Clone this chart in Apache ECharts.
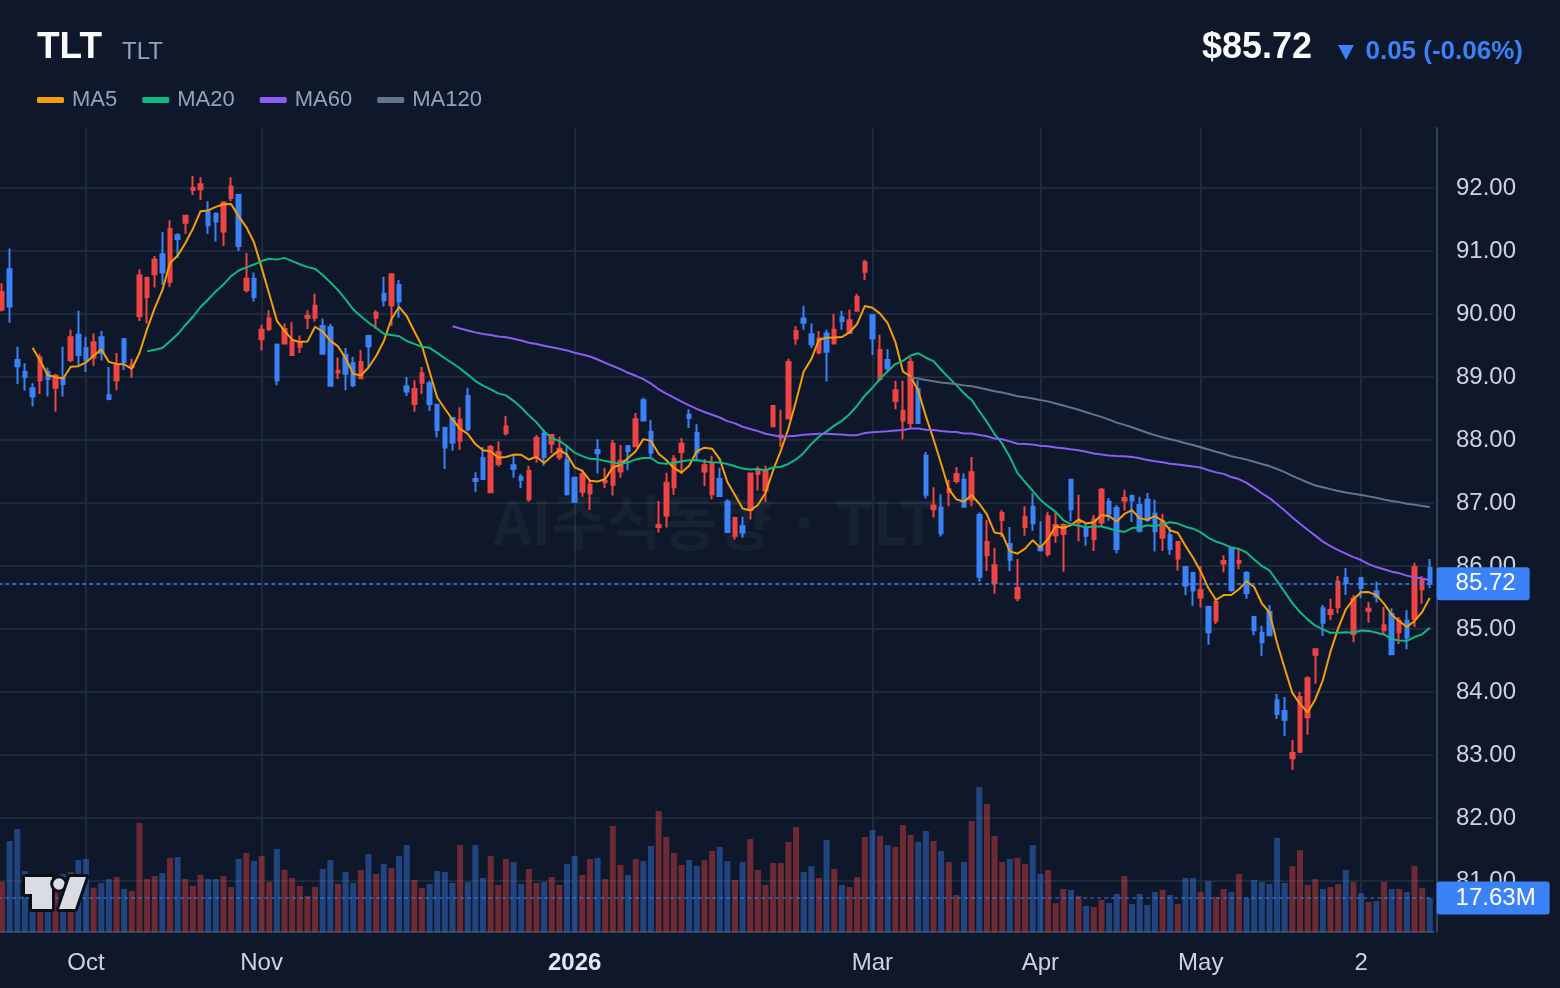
<!DOCTYPE html>
<html>
<head>
<meta charset="utf-8">
<title>TLT</title>
<script src="https://cdn.jsdelivr.net/npm/echarts@6.0.0/dist/echarts.min.js"></script>
<style>
  html, body { margin: 0; padding: 0; background: #0f172a; }
  #chart { width: 1560px; height: 988px; }
</style>
</head>
<body>
<div id="chart"></div>
<script>
// 거래일 (주말, 휴장일 제외)
const startDate = "2025-09-16";
const holidays = ["2025-11-27", "2025-12-25", "2026-01-01", "2026-01-19", "2026-02-16", "2026-04-03", "2026-05-25"];

// [open, close, low, high]
const candles = [
  [90.07,90.35,90.04,90.49],[90.71,90.12,89.86,91.04],[89.27,89.17,88.89,89.48],[89.08,89.00,88.78,89.22],
  [88.82,88.69,88.53,88.90],[88.95,89.31,88.73,89.37],[89.08,88.97,88.69,89.15],[88.83,89.02,88.45,89.05],
  [88.99,88.89,88.69,89.48],[89.27,89.63,89.24,89.75],[89.67,89.35,89.19,90.05],[89.46,89.27,89.08,89.64],
  [89.31,89.55,89.18,89.69],[89.63,89.38,89.26,89.73],[88.71,88.65,88.63,89.16],[88.95,89.19,88.79,89.38],
  [89.60,89.24,89.11,89.62],[89.16,89.19,88.99,89.29],[89.97,90.61,89.89,90.71],[90.27,90.57,89.85,90.59],
  [90.63,90.86,90.42,90.92],[90.95,90.66,90.46,91.30],[90.51,91.35,90.43,91.49],[91.25,91.19,90.89,91.28],
  [91.45,91.56,91.27,91.56],[91.97,92.00,91.89,92.19],[91.98,92.06,91.81,92.17],[91.62,91.41,91.27,91.79],
  [91.59,91.47,91.15,91.61],[91.31,91.77,91.08,91.79],[91.84,92.02,91.79,92.17],[91.89,91.08,91.00,91.89],
  [90.38,90.56,90.34,90.97],[90.56,90.27,90.20,90.66],[89.60,89.75,89.42,89.83],[89.76,89.93,89.73,90.06],
  [89.51,88.95,88.87,89.53],[89.53,89.76,89.52,89.85],[89.35,89.57,89.35,89.87],[89.48,89.56,89.38,89.66],
  [89.94,89.97,89.76,90.06],[89.94,90.13,89.88,90.32],[89.81,89.37,89.37,89.93],[89.79,88.86,88.86,89.84],
  [89.07,89.10,88.97,89.31],[89.35,89.05,88.79,89.46],[89.22,88.87,88.84,89.32],[88.98,89.24,88.97,89.43],
  [89.65,89.49,89.16,89.67],[89.94,90.02,89.76,90.06],[90.32,90.22,90.12,90.59],[90.14,90.63,89.81,90.63],
  [90.46,90.20,89.94,90.54],[88.85,88.77,88.70,89.00],[88.57,88.81,88.45,88.95],[88.91,89.06,88.73,89.16],
  [88.90,88.57,88.46,88.94],[88.56,88.16,88.04,88.56],[88.19,87.88,87.54,88.21],[88.35,87.96,87.83,88.35],
  [87.99,88.32,87.84,88.52],[88.70,88.17,88.14,88.83],[87.38,87.35,87.18,87.49],[87.71,87.38,87.38,87.89],
  [87.17,87.89,87.16,87.92],[87.62,87.81,87.58,87.98],[88.11,88.22,88.07,88.38],[87.60,87.54,87.40,87.76],
  [87.41,87.37,87.24,87.46],[87.06,87.51,87.02,87.59],[87.75,88.03,87.64,88.08],[88.10,87.73,87.59,88.17],
  [87.94,88.08,87.79,88.08],[87.73,87.86,87.68,88.05],[87.68,87.14,87.12,87.92],[87.40,87.02,87.00,87.42],
  [87.18,87.46,87.10,87.52],[87.15,87.29,86.89,87.37],[87.84,87.79,87.47,88.01],[87.33,87.35,87.24,87.56],
  [87.29,87.94,87.12,88.00],[87.50,87.67,87.40,87.92],[87.90,87.82,87.52,87.92],[87.90,88.33,87.89,88.43],
  [88.63,88.31,88.31,88.67],[88.13,87.80,87.70,88.32],[86.62,86.65,86.53,87.03],[86.80,87.32,86.61,87.48],
  [87.25,87.70,87.13,87.76],[87.81,87.94,87.46,88.03],[88.40,88.35,88.19,88.49],[88.11,87.80,87.67,88.25],
  [87.50,87.60,87.27,87.70],[87.14,87.62,87.06,87.75],[87.38,87.11,87.11,87.56],[87.02,86.54,86.54,87.06],
  [86.48,86.76,86.42,86.78],[86.63,86.53,86.45,86.78],[86.89,87.47,86.74,87.47],[87.46,87.54,87.20,87.58],
  [87.20,87.52,87.02,87.59],[88.22,88.54,88.21,88.54],[88.04,88.07,87.89,88.48],[88.34,89.24,88.33,89.29],
  [89.61,89.73,89.51,89.81],[89.93,89.86,89.75,90.13],[89.68,89.52,89.46,89.85],[89.39,89.61,89.36,89.73],
  [89.69,89.40,88.93,89.75],[89.53,89.75,89.52,90.00],[89.95,89.89,89.75,90.05],[89.70,89.90,89.69,90.07],
  [90.05,90.27,90.04,90.32],[90.67,90.82,90.54,90.86],[89.98,89.61,89.35,90.00],[88.97,89.43,88.93,89.67],
  [89.27,89.14,89.08,89.44],[88.62,88.79,88.49,88.94],[88.31,88.46,88.01,88.94],[88.27,89.24,88.19,89.31],
  [88.81,88.27,88.27,88.95],[87.75,87.13,87.07,87.81],[86.90,86.96,86.77,87.25],[86.93,86.52,86.47,87.14],
  [87.17,87.22,86.95,87.37],[87.35,87.46,87.31,87.57],[87.37,86.94,86.93,87.47],[87.05,87.49,86.95,87.73],
  [86.81,85.83,85.75,86.85],[86.17,86.38,85.92,86.73],[85.73,86.01,85.56,86.29],[86.73,86.84,86.46,86.89],
  [86.35,86.10,85.92,86.62],[85.49,85.65,85.44,86.11],[86.62,86.78,86.48,86.95],[86.94,86.68,86.56,87.16],
  [86.29,86.25,86.23,86.71],[86.19,86.79,86.15,86.86],[86.49,86.65,86.37,86.86],[86.51,86.65,85.91,86.68],
  [87.37,86.90,86.71,87.38],[86.69,86.70,86.39,87.13],[86.60,86.48,86.32,86.68],[86.43,86.74,86.24,86.81],
  [86.69,87.21,86.63,87.24],[87.02,86.83,86.72,87.08],[86.92,86.27,86.20,86.97],[87.04,87.08,86.88,87.21],
  [87.11,87.04,86.70,87.13],[86.97,86.56,86.53,87.10],[87.05,86.73,86.70,87.16],[86.83,86.55,86.23,87.05],
  [86.45,86.71,86.24,86.83],[86.49,86.27,86.18,86.62],[86.12,86.38,85.93,86.38],[85.98,85.69,85.54,86.00],
  [85.89,85.61,85.37,85.90],[85.50,85.62,85.34,86.00],[85.35,84.95,84.75,85.37],[85.13,85.43,85.08,85.49],
  [86.04,86.08,85.90,86.17],[86.29,85.62,85.59,86.29],[86.05,86.08,85.95,86.29],[85.89,85.57,85.48,85.92],
  [85.19,84.98,84.90,85.21],[84.94,84.79,84.57,85.05],[85.27,84.90,84.89,85.38],[83.87,83.65,83.57,83.97],
  [83.70,83.56,83.30,83.92],[82.95,83.03,82.76,83.24],[83.05,83.92,83.03,84.00],[83.60,84.22,83.32,84.25],
  [84.59,84.68,84.13,84.68],[85.33,85.10,84.89,85.38],[85.24,85.30,85.14,85.48],[85.35,85.75,85.25,85.84],
  [85.81,85.73,85.54,85.97],[84.92,85.48,84.79,85.54],[85.81,85.65,85.49,85.81],[85.29,85.32,85.10,85.43],
  [85.60,85.51,85.42,85.75],[84.98,85.06,84.90,85.35],[85.24,84.60,84.60,85.33],[84.95,85.13,84.76,85.19],
  [85.13,84.87,84.68,85.30],[85.16,85.98,85.03,86.05],[85.63,85.77,85.40,85.84],[85.97,85.72,85.65,86.11]
];

// 거래량 (백만 주)
const volumes = [
  26.1,47.2,53.4,31.6,27.0,24.4,28.0,25.9,30.1,31.1,37.3,37.9,23.0,25.4,27.5,28.5,22.3,21.3,56.5,27.5,
  29.0,30.6,38.4,38.9,27.5,23.9,29.6,27.5,27.5,29.0,23.3,37.9,41.0,36.8,39.4,25.9,43.0,32.2,28.0,23.9,
  18.7,23.3,32.7,37.3,24.9,31.1,25.4,32.2,40.5,30.1,35.3,33.2,39.4,45.1,27.0,22.8,24.9,31.6,31.1,25.4,
  45.1,25.9,45.1,28.0,39.4,24.4,37.9,36.3,24.9,32.7,25.4,25.9,28.5,24.4,35.3,39.4,29.6,37.9,38.4,27.5,
  55.0,34.8,29.6,37.9,36.8,44.6,62.8,49.3,41.0,34.8,37.3,34.2,37.3,42.0,44.1,36.8,27.0,36.3,48.2,32.2,
  24.4,35.8,35.8,46.7,54.5,31.1,34.2,28.0,47.7,32.7,24.4,23.3,28.5,49.3,52.9,49.8,45.1,44.1,55.5,50.3,
  46.7,52.4,47.2,42.0,36.3,19.2,36.3,57.6,75.2,66.4,49.8,36.3,37.9,38.4,35.3,45.1,30.1,32.2,15.0,22.3,
  21.8,18.7,13.5,13.0,16.6,15.0,19.7,29.0,14.5,19.7,14.0,20.7,21.8,19.2,14.5,28.0,28.0,20.7,26.4,18.2,
  22.3,20.7,30.1,17.6,27.0,25.9,24.9,48.8,25.4,34.2,42.5,24.4,27.5,22.3,23.3,24.9,32.2,25.9,20.2,15.6,
  16.1,25.9,22.3,22.3,20.7,34.2,22.8,17.63
];

// x축 라벨 (인덱스 → 텍스트)
const tickLabels = { 11: "Oct", 34: "Nov", 75: "2026", 114: "Mar", 136: "Apr", 157: "May", 178: "2" };

const maPeriods = [5, 20, 60, 120];
const maColors = ["#f59e0b", "#10b981", "#8b5cf6", "#64748b"];

const upColor = "#ef4444";
const downColor = "#3b82f6";
const font = '"Liberation Sans", Arial, sans-serif';

function tradingDays(start, count) {
  const out = [];
  const d = new Date(start + "T00:00:00Z");
  while (out.length < count) {
    const day = d.getUTCDay();
    const s = d.toISOString().slice(0, 10);
    if (day !== 0 && day !== 6 && holidays.indexOf(s) < 0) out.push(s);
    d.setUTCDate(d.getUTCDate() + 1);
  }
  return out;
}

function calcMA(n) {
  return candles.map(function (c, i) {
    if (i < n - 1) return "-";
    let sum = 0;
    for (let j = i - n + 1; j <= i; j++) sum += candles[j][1];
    return +(sum / n).toFixed(3);
  });
}

const dates = tradingDays(startDate, candles.length);
const last = candles[candles.length - 1];
const prev = candles[candles.length - 2];
const lastClose = last[1];
const diff = lastClose - prev[1];
const diffPct = diff / prev[1] * 100;
const lastVolume = volumes[volumes.length - 1];

const showTick = function (idx) { return tickLabels[idx] !== undefined; };

const chart = echarts.init(document.getElementById("chart"));

const maSeries = maPeriods.map(function (n, k) {
  return {
    name: "MA" + n,
    type: "line",
    xAxisIndex: 0,
    yAxisIndex: 0,
    data: calcMA(n),
    showSymbol: false,
    symbol: "none",
    silent: true,
    z: 3,
    lineStyle: { color: maColors[k], width: 2 },
    itemStyle: { color: maColors[k] }
  };
});

// 가격 라벨 박스 공통 스타일
const tagLabel = {
  position: "end",
  distance: 3,
  color: "#ffffff",
  fontSize: 24,
  lineHeight: 25,
  backgroundColor: "#3b82f6",
  borderRadius: 3
};

chart.setOption({
  animation: false,
  backgroundColor: "#0f172a",
  textStyle: { fontFamily: font },
  legend: {
    left: 37,
    top: 89,
    padding: 0,
    icon: "roundRect",
    itemWidth: 27,
    itemHeight: 6,
    itemGap: 25,
    data: maPeriods.map(function (n) { return "MA" + n; }),
    textStyle: { color: "#94a3b8", fontSize: 22, padding: [0, 0, 0, 3] },
    selectedMode: false
  },
  graphic: [
    { type: "text", x: 37, y: 48, style: { text: "TLT", fill: "#f8fafc", font: "bold 37px " + font, verticalAlign: "middle" } },
    { type: "text", x: 122, y: 52, style: { text: "TLT", fill: "#94a3b8", font: "24px " + font, verticalAlign: "middle" } },
    { type: "text", x: 1312, y: 48, style: { text: "$" + lastClose.toFixed(2), fill: "#f8fafc", font: "bold 36px " + font, align: "right", verticalAlign: "middle" } },
    { type: "polygon", shape: { points: [[1338, 45], [1354, 45], [1346, 60]] }, style: { fill: downColor } },
    { type: "text", x: 1523, y: 52, style: { text: Math.abs(diff).toFixed(2) + " (" + diffPct.toFixed(2) + "%)", fill: downColor, font: "bold 26px " + font, align: "right", verticalAlign: "middle" } },
    { type: "text", x: 715, y: 522, z: 1, silent: true, style: { text: "AI주식동향 · TLT", fill: "rgba(148,163,184,0.07)", font: 'bold 60px "Noto Sans CJK KR", sans-serif', align: "center", verticalAlign: "middle" } },
    // 로고
    { type: "polygon", z: 10, shape: { points: [[25, 877], [52, 877], [52, 909], [32, 909], [32, 894], [25, 894]] }, style: { fill: "#d9dce3", stroke: "#0b0f17", lineWidth: 6, strokeFirst: true, lineJoin: "round" } },
    { type: "circle", z: 10, shape: { cx: 59, cy: 884, r: 5.8 }, style: { fill: "#d9dce3", stroke: "#0b0f17", lineWidth: 6, strokeFirst: true } },
    { type: "polygon", z: 10, shape: { points: [[70, 877], [86, 877], [75, 909], [59, 909]] }, style: { fill: "#d9dce3", stroke: "#0b0f17", lineWidth: 6, strokeFirst: true, lineJoin: "round" } }
  ],
  grid: [
    { left: -1.8, right: 126.4, top: 125, bottom: 44, outerBoundsMode: "none" },
    { left: -1.8, right: 126.4, top: 128, bottom: 56, outerBoundsMode: "none" }
  ],
  xAxis: [
    { type: "category", gridIndex: 0, data: dates, boundaryGap: true, show: false },
    {
      type: "category",
      gridIndex: 1,
      data: dates,
      boundaryGap: true,
      axisLine: { show: true, lineStyle: { color: "#334155", width: 2 } },
      axisTick: { show: false },
      axisLabel: {
        interval: showTick,
        margin: 19,
        color: "#cbd5e1",
        fontSize: 24,
        formatter: function (val, idx) {
          const t = tickLabels[idx];
          if (t === undefined) return "";
          return t === "2026" ? "{b|" + t + "}" : t;
        },
        rich: { b: { fontWeight: "bold", fontSize: 24, color: "#e2e8f0" } }
      },
      splitLine: { show: true, interval: showTick, alignWithLabel: true, lineStyle: { color: "#1e293b", width: 2 } }
    }
  ],
  yAxis: [
    {
      type: "value",
      gridIndex: 0,
      position: "right",
      offset: 3.4,
      min: 80,
      max: 93,
      interval: 1,
      axisLine: { show: false },
      axisTick: { show: false },
      axisLabel: {
        color: "#cbd5e1",
        fontSize: 24,
        margin: 19,
        padding: [4, 0, 0, 0],
        showMinLabel: false,
        showMaxLabel: false,
        formatter: function (v) { return v.toFixed(2); }
      },
      splitLine: { show: true, showMinLine: false, showMaxLine: false, lineStyle: { color: "#1e293b", width: 2 } }
    },
    {
      type: "value",
      gridIndex: 1,
      position: "right",
      offset: 3.4,
      min: 0,
      max: 417,
      axisLine: { show: true, lineStyle: { color: "#334155", width: 2 } },
      axisTick: { show: false },
      axisLabel: { show: false },
      splitLine: { show: false }
    }
  ],
  series: [
    {
      name: "거래량",
      type: "bar",
      xAxisIndex: 1,
      yAxisIndex: 1,
      barWidth: 6,
      silent: true,
      data: volumes.map(function (v, i) {
        const up = candles[i][1] > candles[i][0];
        return { value: v, itemStyle: { color: up ? "rgba(239,68,68,0.42)" : "rgba(59,130,246,0.42)" } };
      }),
      markLine: {
        silent: true,
        symbol: ["none", "none"],
        lineStyle: { color: "rgba(59,130,246,0.65)", type: [4, 3], width: 1.5 },
        label: Object.assign({}, tagLabel, {
          padding: [4, 14, 4, 19],
          formatter: function () { return lastVolume.toFixed(2) + "M"; }
        }),
        data: [{ yAxis: lastVolume }]
      }
    },
    {
      name: "TLT",
      type: "candlestick",
      xAxisIndex: 0,
      yAxisIndex: 0,
      barWidth: 4,
      data: candles,
      itemStyle: {
        color: upColor,
        color0: downColor,
        borderColor: upColor,
        borderColor0: downColor,
        borderWidth: 2
      },
      markLine: {
        silent: true,
        symbol: ["none", "none"],
        lineStyle: { color: "#3b82f6", type: [4, 3], width: 1.5 },
        label: Object.assign({}, tagLabel, {
          padding: [4, 14, 4, 19],
          formatter: function () { return lastClose.toFixed(2); }
        }),
        data: [{ yAxis: lastClose }]
      }
    }
  ].concat(maSeries)
});
</script>
</body>
</html>
